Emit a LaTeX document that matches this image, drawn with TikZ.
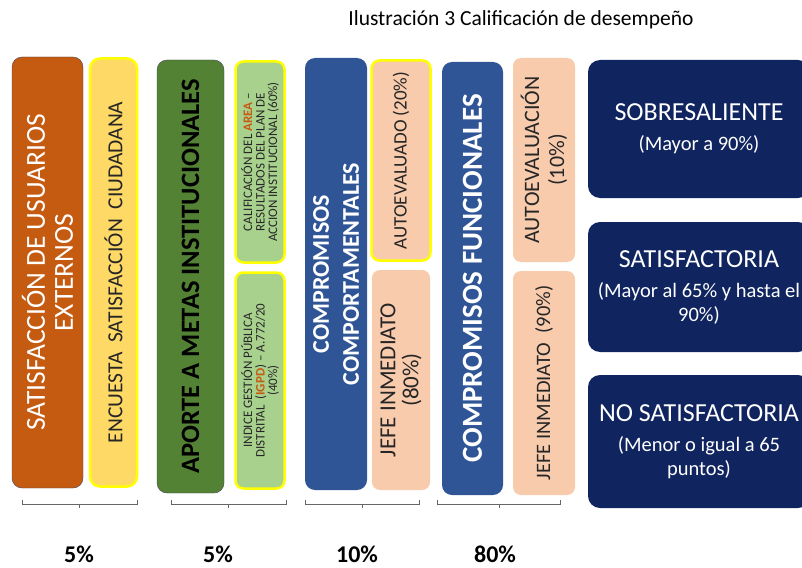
\documentclass[tikz,border=0pt]{standalone}
\usepackage{fontspec}
\setmainfont{Carlito}
\usepackage{xcolor}
\usepackage{tikz}
\definecolor{naranja}{HTML}{C55A11}
\definecolor{amarillo}{HTML}{FFD966}
\definecolor{amarilloborde}{HTML}{FFFF00}
\definecolor{verde}{HTML}{548235}
\definecolor{verdeclaro}{HTML}{A9D18E}
\definecolor{azul}{HTML}{2F5597}
\definecolor{durazno}{HTML}{F8CBAD}
\definecolor{marino}{HTML}{10245F}
\definecolor{contorno}{HTML}{44475A}
\definecolor{texto}{HTML}{262626}
\newcommand{\fs}[2]{\fontsize{#1}{#2}\selectfont}
\newcommand{\resalta}[1]{\textbf{\textcolor{naranja}{#1}}}

\begin{document}
\begin{tikzpicture}[x=1pt,y=-1pt,
    caja/.style={rounded corners=10pt, rotate=90, align=center, inner sep=1pt, text=texto},
    subcaja/.style={caja, rounded corners=8pt},
    resaltada/.style={draw=amarilloborde, line width=2.5pt},
    nivel/.style={rounded corners=12pt, fill=marino, text=white, align=center,
        minimum width=222pt, font=\fs{20.5}{24}},
    llave/.style={draw=gray!80!black, line width=0.6pt},
    pct/.style={font=\fs{24}{28}\bfseries, text=black, inner sep=0pt}]
    \useasboundingbox (0,0) rectangle (802,567);
    \node[text=black, font=\fs{21.5}{25}] (titulo) at (521,20) {Ilustración 3 Calificación de desempeño};
    % satisfaccion de usuarios
    \node[caja, fill=naranja, draw=contorno, text=white, font=\fs{27.5}{28},
        minimum width=431pt, minimum height=71pt] (usuarios) at (47.5,272.5)
        {SATISFACCIÓN DE USUARIOS\\EXTERNOS};
    \node[caja, resaltada, fill=amarillo, font=\fs{21.5}{24},
        minimum width=428pt, minimum height=47pt] (encuesta) at (113.5,272.5)
        {ENCUESTA\ \ SATISFACCIÓN\ \ CIUDADANA};
    % aporte a metas
    \node[caja, fill=verde, draw=contorno, text=black, font=\fs{26.5}{30}\bfseries,
        minimum width=433pt, minimum height=67pt] (aporte) at (190.5,276.5)
        {APORTE A METAS INSTITUCIONALES};
    \node[subcaja, resaltada, fill=verdeclaro, font=\fs{13}{12.5},
        minimum width=201pt, minimum height=49pt] (area) at (260,162)
        {CALIFICACIÓN DEL \resalta{AREA} –\\RESULTADOS DEL PLAN DE\\ACCION INSTITUCIONAL (60\%)};
    \node[subcaja, resaltada, fill=verdeclaro, font=\fs{13}{12.5},
        minimum width=216pt, minimum height=49pt] (igpd) at (260,380.5)
        {INDICE GESTIÓN PÚBLICA\\DISTRITAL\ \ (\resalta{IGPD}) – A.772/20\\(40\%)};
    % compromisos comportamentales
    \node[caja, fill=azul, text=white, font=\fs{24}{30}\bfseries,
        minimum width=432pt, minimum height=62pt] (comportamentales) at (336,274)
        {COMPROMISOS\\COMPORTAMENTALES};
    \node[subcaja, resaltada, fill=durazno, font=\fs{19}{22},
        minimum width=200pt, minimum height=59pt] (autoevaluado) at (401,160.5)
        {AUTOEVALUADO (20\%)};
    \node[subcaja, fill=durazno, font=\fs{23}{23},
        minimum width=220pt, minimum height=58pt] (jefeuno) at (401,380)
        {JEFE INMEDIATO\\(80\%)};
    % compromisos funcionales
    \node[caja, fill=azul, text=white, font=\fs{29}{32}\bfseries,
        minimum width=433pt, minimum height=61pt] (funcionales) at (472.5,278.5)
        {COMPROMISOS FUNCIONALES};
    \node[subcaja, fill=durazno, font=\fs{22}{25},
        minimum width=204pt, minimum height=62pt] (autoevaluacion) at (544,160)
        {AUTOEVALUACIÓN\\(10\%)};
    \node[subcaja, fill=durazno, font=\fs{20.5}{24},
        minimum width=224pt, minimum height=62pt] (jefedos) at (544,383)
        {JEFE INMEDIATO\ \ (90\%)};
    % niveles
    \node[nivel, minimum height=138pt] (sobresaliente) at (699,129)
        {{\fs{26}{31}SOBRESALIENTE}\\[6pt](Mayor a 90\%)};
    \node[nivel, minimum height=130pt] (satisfactoria) at (699,287)
        {{\fs{26}{31}SATISFACTORIA}\\[6pt](Mayor al 65\% y hasta el\\90\%)};
    \node[nivel, minimum height=133pt] (nosatisfactoria) at (699,441.5)
        {{\fs{26}{31}NO SATISFACTORIA}\\[6pt](Menor o igual a 65\\puntos)};
    % llaves y pesos
    \foreach \i/\a/\m/\b/\t/\p in {1/22/79/137/79/5,2/171/228/286/218/5,3/305/362/419/357/10,4/437/499/560/495/80}{%
        \draw[llave] (\a,500) -- (\a,504) -- (\b,504) -- (\b,500);
        \draw[llave] (\m,504) -- (\m,508);
        \node[pct] (peso\i) at (\t,554) {\p\%};
    }
\end{tikzpicture}
\end{document}
